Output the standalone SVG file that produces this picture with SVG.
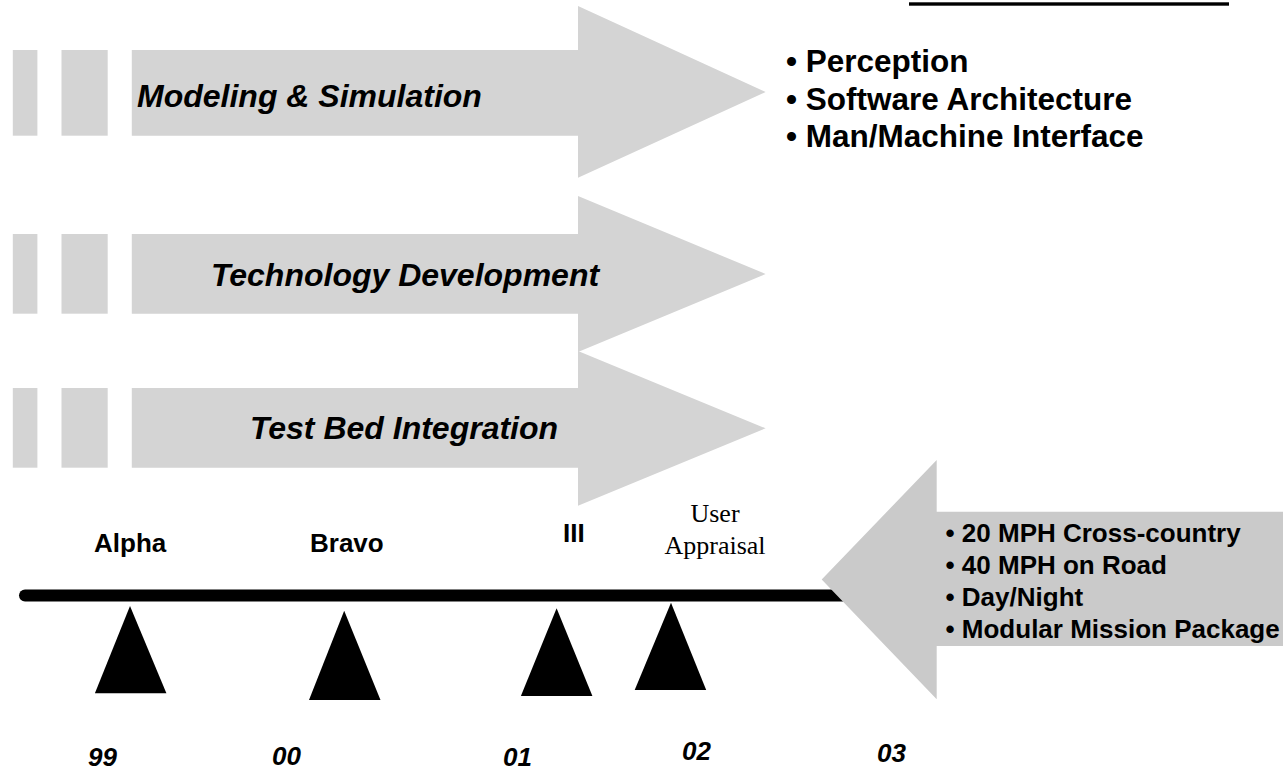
<svg xmlns="http://www.w3.org/2000/svg" width="1283" height="768" viewBox="0 0 1283 768">
<style>
.band{fill:#d4d4d4}
.goal{fill:#cacaca}
.lbl{font-family:"Liberation Sans",Arial,sans-serif;font-weight:bold;font-style:italic;font-size:32px;fill:#000}
.bul{font-family:"Liberation Sans",Arial,sans-serif;font-weight:bold;font-size:31.5px;fill:#000}
.bul2{font-family:"Liberation Sans",Arial,sans-serif;font-weight:bold;font-size:26px;fill:#000}
.ms{font-family:"Liberation Sans",Arial,sans-serif;font-weight:bold;font-size:26px;fill:#000}
.yr{font-family:"Liberation Sans",Arial,sans-serif;font-weight:bold;font-style:italic;font-size:26px;fill:#000}
.tm{font-family:"Liberation Serif","Times New Roman",serif;font-size:26px;fill:#000}
.tri{fill:#000}
</style>
<rect x="909" y="2.3" width="320" height="3.4" fill="#000"/>
<g id="modeling">
<rect class="band" x="12.8" y="50" width="24.6" height="85.7"/>
<rect class="band" x="61.5" y="50" width="46.2" height="85.7"/>
<polygon class="band" points="131.8,50 578,50 578,6 765.6,92 578,177.7 578,135.7 131.8,135.7"/>
<text class="lbl" x="137" y="107">Modeling &amp; Simulation</text>
</g>
<g id="techdev">
<rect class="band" x="12.8" y="234" width="24.6" height="79.7"/>
<rect class="band" x="61.5" y="234" width="46.2" height="79.7"/>
<polygon class="band" points="131.8,234 578,234 578,196 765.6,274 578,352 578,313.7 131.8,313.7"/>
<text class="lbl" x="405" y="286" text-anchor="middle">Technology Development</text>
</g>
<g id="testbed">
<rect class="band" x="12.8" y="388" width="24.6" height="79.7"/>
<rect class="band" x="61.5" y="388" width="46.2" height="79.7"/>
<polygon class="band" points="131.8,388 578,388 578,351 765.6,428.3 578,505.7 578,467.7 131.8,467.7"/>
<text class="lbl" x="404" y="439" text-anchor="middle">Test Bed Integration</text>
</g>
<g id="challenges">
<text class="bul" x="786" y="71.7">• Perception</text>
<text class="bul" x="786" y="109.5">• Software Architecture</text>
<text class="bul" x="786" y="146.7">• Man/Machine Interface</text>
</g>
<g id="connectors">
<line x1="25" y1="595.5" x2="900" y2="595.5" stroke="#000" stroke-width="12" stroke-linecap="round"/>
</g>
<g id="requirements">
<polygon class="goal" points="1283,511.7 936.7,511.7 936.7,460 821.7,579.5 936.7,699.3 936.7,646 1283,646"/>
<text class="bul2" x="945.5" y="541.7">• 20 MPH Cross-country</text>
<text class="bul2" x="945.5" y="573.5">• 40 MPH on Road</text>
<text class="bul2" x="945.5" y="605.5">• Day/Night</text>
<text class="bul2" x="945.5" y="638">• Modular Mission Package</text>
</g>
<g id="alpha">
<polygon class="tri" points="130,606 166.4,693.3 94.9,693.3"/>
<text class="ms" x="94" y="552.3">Alpha</text>
<text class="yr" x="88" y="766">99</text>
</g>
<g id="bravo">
<polygon class="tri" points="344.2,610.7 380.5,700 309,700"/>
<text class="ms" x="310" y="552.3">Bravo</text>
<text class="yr" x="272" y="765">00</text>
</g>
<g id="iii">
<polygon class="tri" points="556.6,608.3 592.4,696 520.9,696"/>
<text class="ms" x="563" y="541.7">III</text>
<text class="yr" x="503" y="766">01</text>
</g>
<g id="appraisal">
<polygon class="tri" points="671,602.7 706.2,690 634.7,690"/>
<text class="tm" x="715" y="521.7" text-anchor="middle">User</text>
<text class="tm" x="715" y="554.3" text-anchor="middle">Appraisal</text>
<text class="yr" x="682" y="759.5">02</text>
</g>
<g id="y03">
<text class="yr" x="877" y="761.5">03</text>
</g>
</svg>
